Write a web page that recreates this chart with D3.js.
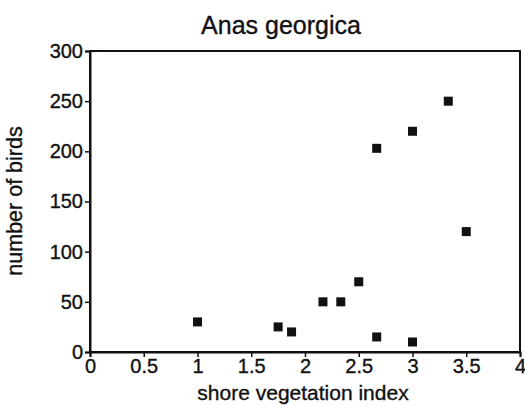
<!DOCTYPE html>
<html>
<head>
<meta charset="utf-8">
<script src="https://cdn.jsdelivr.net/npm/d3@7"></script>
<style>
  html, body { margin: 0; padding: 0; background: #fff; }
  svg { display: block; }
  text { font-family: "Liberation Sans", Arial, Helvetica, sans-serif; fill: #111; stroke: #111; stroke-width: 0.35px; }
</style>
</head>
<body>
<svg id="chart" width="525" height="406"></svg>
<script>
// Shore vegetation index vs. number of birds, Anas georgica
const vegetationIndex = [1, 1.75, 1.875, 2.167, 2.333, 2.5, 2.667, 3, 2.667, 3, 3.333, 3.5];
const birdCounts      = [30, 25, 20, 50, 50, 70, 15, 10, 203, 220, 250, 120];
const xTicks = [0, 0.5, 1, 1.5, 2, 2.5, 3, 3.5, 4];
const yTicks = [0, 50, 100, 150, 200, 250, 300];

const svg = d3.select("#chart");
const margin = { top: 51, right: 5, bottom: 54, left: 90 };
const width = 525 - margin.left - margin.right;
const height = 406 - margin.top - margin.bottom;

const x = d3.scaleLinear().domain([0, 4]).range([margin.left, margin.left + width]);
const y = d3.scaleLinear().domain([0, 300]).range([margin.top + height, margin.top]);

const ink = "#111";

// frame around the plotting area
svg.append("rect")
  .attr("x", x(0)).attr("y", y(300))
  .attr("width", x(4) - x(0)).attr("height", y(0) - y(300))
  .attr("fill", "none").attr("stroke", ink).attr("stroke-width", 2);

// x axis
const xAxis = svg.append("g")
  .attr("transform", `translate(0,${y(0)})`)
  .call(d3.axisBottom(x).tickValues(xTicks).tickFormat(d3.format("")).tickSize(5).tickPadding(2));
// y axis
const yAxis = svg.append("g")
  .attr("transform", `translate(${x(0)},0)`)
  .call(d3.axisLeft(y).tickValues(yTicks).tickFormat(d3.format("")).tickSize(5).tickPadding(2));

[xAxis, yAxis].forEach(g => {
  g.select(".domain").attr("stroke", ink).attr("stroke-width", 2);
  g.selectAll(".tick line").attr("stroke", ink).attr("stroke-width", 1.5);
  g.selectAll(".tick text").attr("fill", ink).attr("stroke", ink).attr("stroke-width", 0.35)
    .style("font-size", "20px").style("font-family", "'Liberation Sans', Arial, sans-serif");
});

// data points as filled squares
const s = 9;
svg.append("g").selectAll("rect")
  .data(vegetationIndex.map((v, i) => [v, birdCounts[i]]))
  .join("rect")
  .attr("x", d => x(d[0]) - s / 2)
  .attr("y", d => y(d[1]) - s / 2)
  .attr("width", s).attr("height", s)
  .attr("fill", ink);

// title and axis titles
svg.append("text")
  .attr("x", 281).attr("y", 34)
  .attr("text-anchor", "middle")
  .style("font-size", "25px")
  .text("Anas georgica");

svg.append("text")
  .attr("x", 303).attr("y", 400)
  .attr("text-anchor", "middle")
  .style("font-size", "21px")
  .text("shore vegetation index");

svg.append("text")
  .attr("transform", "translate(22,201) rotate(-90)")
  .attr("text-anchor", "middle")
  .style("font-size", "21.5px")
  .text("number of birds");
</script>
</body>
</html>
